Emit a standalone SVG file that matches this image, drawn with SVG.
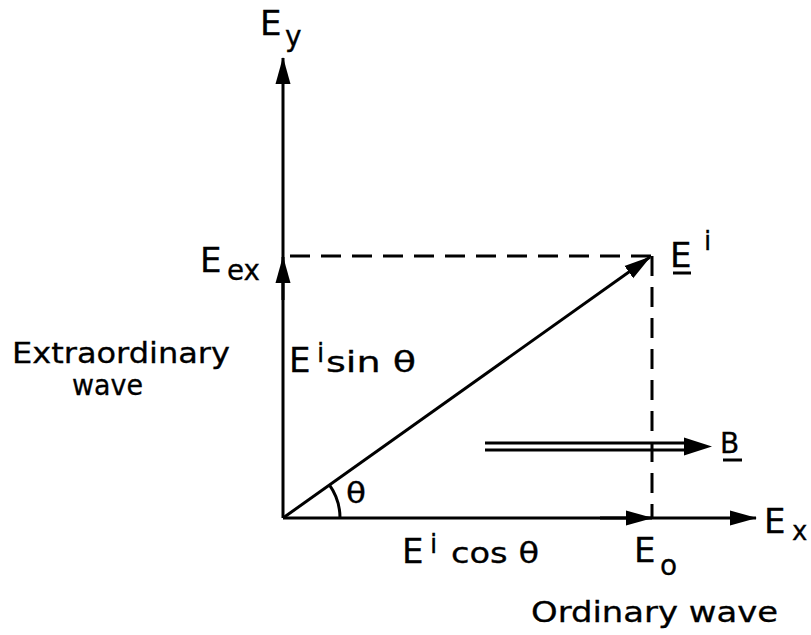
<svg xmlns="http://www.w3.org/2000/svg" width="811" height="635" viewBox="0 0 811 635">
<style>
.ln{stroke:#000;stroke-width:3;fill:none}
.ds{stroke:#000;stroke-width:3;fill:none;stroke-dasharray:20 11}
.ar{marker-end:url(#ah)}
text{font-family:"DejaVu Sans","Liberation Sans",sans-serif;fill:#000;font-size:28px;stroke:#000;stroke-width:0.3}
.big{font-size:34px}
.sub{font-size:26px}
</style>
<defs>
<marker id="ah" markerUnits="userSpaceOnUse" markerWidth="27" markerHeight="18" refX="26" refY="9" orient="auto">
<path d="M0,1.5 L27,9 L0,16.5 z" fill="#000"/>
</marker>
</defs>
<rect width="811" height="635" fill="#fff"/>
<g id="connectors">
<path class="ln ar" d="M283,518 L283,58"/>
<path class="ln ar" d="M283,300 L283,257"/>
<path class="ln ar" d="M283,518 L756,518"/>
<path class="ln ar" d="M600,518 L652,518"/>
<path class="ln ar" d="M283,518 L650,257"/>
<path class="ds" d="M290,256 L652,256"/>
<path class="ds" d="M652,256 L652,518"/>
<path class="ln" d="M340,518 A57,57 0 0 0 329.4,484.9"/>
<g id="B-arrow">
<path class="ln" d="M485,443 L692,443 M485,450 L692,450"/>
<path d="M684,437.5 L712,446.5 L684,455.5 z" fill="#000"/>
</g>
</g>
<g id="labels">
<g id="Ey"><text x="260" y="35" class="big">E</text><text x="285" y="46" font-size="27">y</text></g>
<g id="Eex"><text x="200" y="272" class="big">E</text><text x="227" y="280" font-size="25" textLength="33" lengthAdjust="spacingAndGlyphs">ex</text></g>
<g id="Ei"><text x="670" y="267" class="big">E</text><path class="ln" d="M673,273 L691,273" stroke-width="2.5"/><text x="704" y="250" class="sub">i</text></g>
<g id="extra"><text x="12" y="363" textLength="218" lengthAdjust="spacingAndGlyphs">Extraordinary</text><text x="72" y="395" textLength="71" lengthAdjust="spacingAndGlyphs">wave</text></g>
<g id="sin"><text x="289" y="372" class="big">E</text><text x="317" y="362" class="sub">i</text><text x="326" y="372" textLength="90" lengthAdjust="spacingAndGlyphs">sin θ</text></g>
<g id="theta"><text x="346" y="503" textLength="20" lengthAdjust="spacingAndGlyphs">θ</text></g>
<g id="cos"><text x="402" y="563" class="big">E</text><text x="430" y="553" class="sub">i</text><text x="451" y="563" textLength="88" lengthAdjust="spacingAndGlyphs">cos θ</text></g>
<g id="Eo"><text x="634" y="562" class="big">E</text><text x="660" y="575" font-size="28">o</text></g>
<g id="ordinary"><text x="531" y="622" textLength="247" lengthAdjust="spacingAndGlyphs">Ordinary wave</text></g>
<g id="B"><text x="720" y="453">B</text><path class="ln" d="M723,460 L742,460" stroke-width="2.5"/></g>
<g id="Ex"><text x="764" y="533" class="big">E</text><text x="792" y="540" class="sub">x</text></g>
</g>
</svg>
